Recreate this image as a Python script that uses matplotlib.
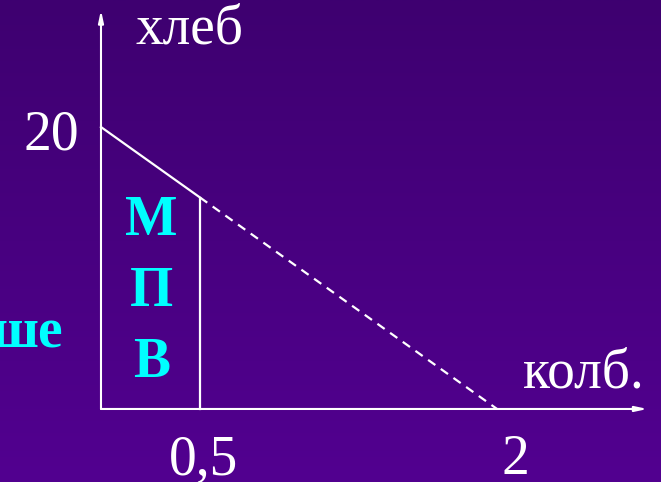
import numpy as np
import matplotlib.pyplot as plt

# budget line: bread intercept, flask intercept, point where the cut is made
bread_max = 20
flask_max = 2
x_cut = 0.5
y_cut = bread_max * (1 - x_cut / flask_max)

tick_labels = ["20", "0,5", "2"]
axis_labels = ["хлеб", "колб."]
letters = ["М", "П", "В"]

fig = plt.figure(figsize=(6.61, 4.82), dpi=100)
ax = fig.add_axes([0, 0, 1, 1])
ax.set_xlim(-0.510, 2.828)
ax.set_ylim(-5.18, 29.01)
ax.axis('off')

# purple gradient background
grad = np.linspace(0, 1, 256).reshape(-1, 1)
top = np.array([62, 0, 112]) / 255
bot = np.array([82, 0, 144]) / 255
img = top + (bot - top) * grad[:, :, None]
ax.imshow(img, extent=[-0.510, 2.828, -5.18, 29.01], aspect='auto', zorder=0, origin='upper')

white = 'white'
cyan = '#00ffff'

# axes with arrows
ax.annotate('', xy=(0, 28.3), xytext=(0, 0),
            arrowprops=dict(arrowstyle='-|>,head_length=0.7,head_width=0.15', color=white, lw=1.5,
                            shrinkA=0, shrinkB=0))
ax.annotate('', xy=(2.76, 0), xytext=(-0.0, 0),
            arrowprops=dict(arrowstyle='-|>,head_length=0.7,head_width=0.15', color=white, lw=1.5,
                            shrinkA=0, shrinkB=0))

# solid part of the budget line, the dashed rest, and the vertical cut
ax.plot([0, x_cut], [bread_max, y_cut], color=white, lw=1.6, zorder=3)
ax.plot([x_cut, flask_max], [y_cut, 0], color=white, lw=1.6, linestyle=(0, (4, 3)), zorder=3)
ax.plot([x_cut, x_cut], [0, y_cut], color=white, lw=1.6, zorder=3)

serif = 'Liberation Serif'
ax.text(-0.111, 18.4, tick_labels[0], ha='right', va='baseline', fontsize=40, color=white, family=serif)
ax.text(0.52, -4.6, tick_labels[1], ha='center', va='baseline', fontsize=40, color=white, family=serif)
ax.text(2.095, -4.6, tick_labels[2], ha='center', va='baseline', fontsize=40, color=white, family=serif)
ax.text(0.172, 25.9, axis_labels[0], ha='left', va='baseline', fontsize=40, color=white, family=serif)
ax.text(2.13, 1.5, axis_labels[1], ha='left', va='baseline', fontsize=40, color=white, family=serif)

for s, yb in zip(letters, [12.31, 7.33, 2.28]):
    ax.text(0.253, yb, s, ha='center', va='baseline', fontsize=40, color=cyan,
            family=serif, fontweight='bold')

ax.text(-0.19, 4.34, "ше", ha='right', va='baseline', fontsize=40, color=cyan,
        family=serif, fontweight='bold')

fig.savefig('out.png', dpi=100)
